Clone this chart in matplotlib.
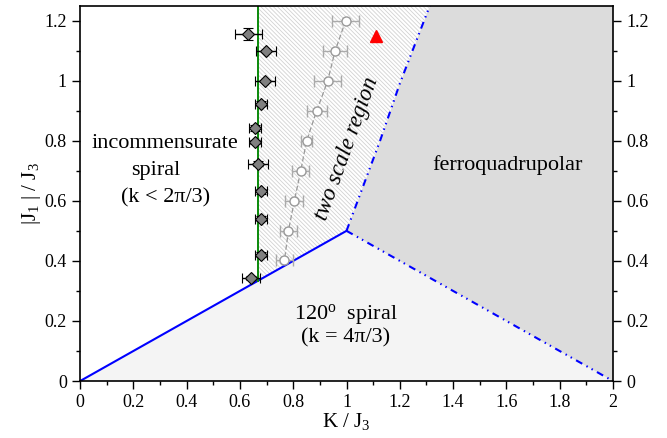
import numpy as np
import matplotlib
matplotlib.use("Agg")
import matplotlib.pyplot as plt
from matplotlib.ticker import MultipleLocator

# ============================================================
# DATA
# ============================================================

# phase boundaries
spiral_line_k   = [0.0, 1.0]
spiral_line_j   = [0.0, 0.5]
ferro_low_k     = [1.0, 2.0]
ferro_low_j     = [0.5, 0.0]
ferro_up_k      = [1.0, 1.126, 1.20, 1.313]
ferro_up_j      = [0.5, 0.80, 0.99, 1.25]
green_k         = 2.0 / 3.0

# incommensurate -> two scale transition (diamonds)
diam_k    = [0.632, 0.697, 0.694, 0.679, 0.657, 0.657, 0.669, 0.679, 0.679, 0.679, 0.642]
diam_j    = [1.156, 1.098, 0.998, 0.923, 0.842, 0.796, 0.724, 0.632, 0.541, 0.421, 0.343]
diam_kerr = [0.050, 0.038, 0.038, 0.023, 0.022, 0.022, 0.038, 0.023, 0.023, 0.023, 0.034]
diam_jerr = [0.020, 0.0, 0.0, 0.008, 0.010, 0.008, 0.008, 0.008, 0.008, 0.008, 0.008]

# open circles inside two scale region
circ_k    = [0.997, 0.957, 0.929, 0.888, 0.850, 0.828, 0.804, 0.782, 0.767]
circ_j    = [1.200, 1.098, 0.998, 0.899, 0.799, 0.699, 0.599, 0.500, 0.402]
circ_kerr = [0.050, 0.044, 0.050, 0.038, 0.022, 0.031, 0.034, 0.031, 0.031]

# single point
tri_k, tri_j = 1.11, 1.15

xlim = (0.0, 2.0)
ylim = (0.0, 1.25)

# ============================================================
# PLOT
# ============================================================

plt.rcParams["font.family"] = ["Liberation Serif", "DejaVu Serif"]
plt.rcParams["mathtext.fontset"] = "custom"
plt.rcParams["mathtext.rm"] = "Liberation Serif"
plt.rcParams["mathtext.it"] = "Liberation Serif:italic"
plt.rcParams["hatch.linewidth"] = 0.6
plt.rcParams["hatch.color"] = "#d2d2d2"

fig = plt.figure(figsize=(6.67, 4.38), dpi=100)
ax = fig.add_axes([0.12, 0.130, 0.799, 0.8574])

# region fills
ax.fill([0, 1, 2], [0, 0.5, 0], color="#f4f4f4", lw=0, zorder=0)
ax.fill(ferro_up_k + [2, 2] + ferro_low_k[::-1],
        ferro_up_j + [1.25, 0] + ferro_low_j[::-1],
        color="#dcdcdc", lw=0, zorder=0)
ax.fill([green_k] + ferro_up_k + [green_k],
        [green_k / 2] + ferro_up_j + [1.25],
        facecolor="white", edgecolor="#d2d2d2", hatch="\\" * 8, lw=0, zorder=0)

# boundaries
ddd = (0, (3.4, 2.3, 0.7, 2.1, 0.7, 2.3))
ax.plot(spiral_line_k, spiral_line_j, color="#0000ff", lw=1.5, zorder=2)
ax.plot(ferro_low_k, ferro_low_j, color="#0000ff", lw=1.5, linestyle=ddd, zorder=2)
ax.plot(ferro_up_k, ferro_up_j, color="#0000ff", lw=1.5, linestyle=ddd, zorder=2)
ax.plot([green_k, green_k], [green_k / 2, 1.25], color="#0a8a0a", lw=1.4, zorder=2)

# circles
ax.plot(circ_k, circ_j, color="#999999", lw=0.9, ls=(0, (4, 2)), zorder=3)
ax.errorbar(circ_k, circ_j, xerr=circ_kerr, fmt="o", ms=6.5, mfc="white",
            mec="#999999", ecolor="#aaaaaa", elinewidth=1.0, capsize=4,
            capthick=1.0, zorder=4)

# diamonds
ax.errorbar(diam_k, diam_j, xerr=diam_kerr, yerr=diam_jerr, fmt="D", ms=6.5,
            mfc="#808080", mec="black", mew=0.8, ecolor="black",
            elinewidth=1.0, capsize=3.5, capthick=1.0, zorder=5)

ax.plot(tri_k, tri_j, "^", color="#ff0000", ms=9, zorder=5)

# labels in regions
ax.text(0.319, 0.79, "incommensurate", ha="center", va="center", fontsize=16)
ax.text(0.285, 0.70, "spiral", ha="center", va="center", fontsize=16)
ax.text(0.32, 0.61, "(k < 2\u03c0/3)", ha="center", va="center", fontsize=16)
ax.text(1.0, 0.775, "two scale region", ha="center", va="center", fontsize=16.5,
        rotation=70, style="italic")
ax.text(1.605, 0.718, "ferroquadrupolar", ha="center", va="center", fontsize=16)
ax.text(0.998, 0.22, "120$^{\\rm o}$  spiral", ha="center", va="center", fontsize=16)
ax.text(0.998, 0.143, "(k = 4\u03c0/3)", ha="center", va="center", fontsize=16)

# axes
ax.set_xlim(*xlim)
ax.set_ylim(*ylim)
ax.set_xlabel("K / J$_3$", fontsize=15, labelpad=0)
ax.set_ylabel("|J$_1$ | / J$_3$", fontsize=15, labelpad=1)

ax.xaxis.set_major_locator(MultipleLocator(0.2))
ax.xaxis.set_minor_locator(MultipleLocator(0.1))
ax.yaxis.set_major_locator(MultipleLocator(0.2))
ax.yaxis.set_minor_locator(MultipleLocator(0.1))
ax.xaxis.set_major_formatter(plt.FuncFormatter(lambda v, p: f"{v:g}"))
ax.yaxis.set_major_formatter(plt.FuncFormatter(lambda v, p: f"{v:g}"))
ax.tick_params(which="both", direction="out", labelsize=13, right=True,
               labelright=True, top=False)
ax.tick_params(which="major", length=6, width=1)
ax.tick_params(which="minor", length=3, width=1)
for s in ax.spines.values():
    s.set_linewidth(1.2)

fig.savefig("out.png", dpi=100)
